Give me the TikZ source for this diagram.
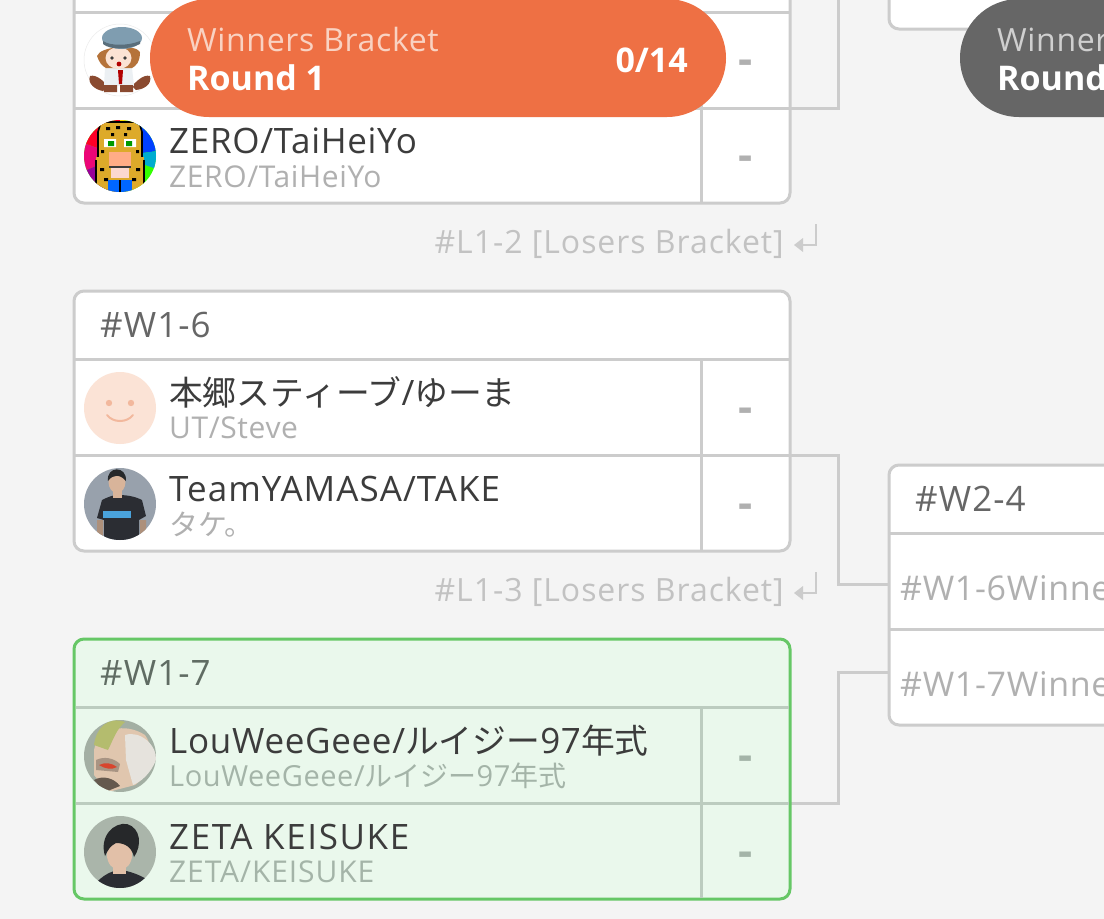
\documentclass[tikz,border=0pt]{standalone}
\usepackage{fontspec}
\setmainfont{Open Sans}
\newfontfamily\cjk[Scale=0.965]{Noto Sans CJK JP}
\newfontfamily\sptwo[LetterSpace=2]{Open Sans}
\newfontfamily\spthree[LetterSpace=3]{Open Sans}
\newfontfamily\spfive[LetterSpace=4.6]{Open Sans}
\definecolor{pagebg}{HTML}{F4F4F4}
\definecolor{linegray}{HTML}{CCCCCC}
\definecolor{greenedge}{HTML}{66C766}
\definecolor{greenfill}{HTML}{EAF8EC}
\definecolor{greenline}{HTML}{BCCCBF}
\definecolor{orangepill}{HTML}{EE7044}
\definecolor{graypill}{HTML}{666666}
\definecolor{maintext}{HTML}{3C3C3C}
\definecolor{subtext}{HTML}{B0B0B0}
\definecolor{greensub}{HTML}{A4B4A8}
\definecolor{headtext}{HTML}{666666}
\definecolor{greenhead}{HTML}{606C63}
\definecolor{noteink}{HTML}{C2C2C2}
\definecolor{hatblue}{HTML}{7F9DB0}
\definecolor{hairbrown}{HTML}{B5733A}
\definecolor{skin}{HTML}{FBE3D4}
\definecolor{bootbrown}{HTML}{8A4A30}
\definecolor{leopard}{HTML}{DDAA2A}
\definecolor{smileface}{HTML}{FBE3D6}
\definecolor{smileink}{HTML}{F2B89D}
\definecolor{photogray}{HTML}{98A1AC}
\definecolor{shirtdark}{HTML}{2B2D33}
\definecolor{photoskin}{HTML}{D8B49A}
\definecolor{shirtblue}{HTML}{4AA3DC}
\definecolor{greenphoto}{HTML}{A3AFA3}
\definecolor{mohawk}{HTML}{B4BC6E}
\definecolor{headskin}{HTML}{E0C6AE}
\definecolor{headpale}{HTML}{E6E3DD}
\definecolor{eyered}{HTML}{D8452E}
\definecolor{hairblack}{HTML}{26282A}
\definecolor{keiskin}{HTML}{E2C0A8}
\definecolor{pilltxt}{HTML}{F9D2C2}
\definecolor{graytxt}{HTML}{CFCFCF}
\tikzset{
  matchbox/.style={draw=linegray,fill=white,line width=3pt,rounded corners=10pt,anchor=north west,inner sep=0pt,outer sep=0pt,minimum width=716pt,minimum height=260pt},
  greenbox/.style={matchbox,draw=greenedge,fill=greenfill},
  rowline/.style={draw=linegray,line width=3pt},
  greenrow/.style={draw=greenline,line width=3pt},
  conn/.style={draw=linegray,line width=3pt},
  maintxt/.style={anchor=base west,inner sep=0pt,text=maintext,font=\fontsize{35}{35}\sptwo},
  subtxt/.style={anchor=base west,inner sep=0pt,text=subtext,font=\fontsize{30}{30}\sptwo},
  greensubtxt/.style={subtxt,text=greensub},
  headtxt/.style={anchor=base west,inner sep=0pt,text=headtext,font=\fontsize{35}{35}\spthree},
  greenheadtxt/.style={headtxt,text=greenhead},
  scoretxt/.style={anchor=base,inner sep=0pt,text=subtext,font=\fontsize{44}{44}\selectfont\bfseries},
  notetxt/.style={anchor=base east,inner sep=0pt,text=noteink,font=\fontsize{32}{32}\spthree},
  slottxt/.style={anchor=base west,inner sep=0pt,text=subtext,font=\fontsize{34}{34}\sptwo},
  pilltop/.style={anchor=base west,inner sep=0pt,font=\fontsize{32}{32}\sptwo},
  pillbot/.style={anchor=base west,inner sep=0pt,text=white,font=\fontsize{34}{34}\selectfont\bfseries},
  pillshape/.style={rounded corners=59pt,anchor=north west,inner sep=0pt,outer sep=0pt,minimum width=576pt,minimum height=118pt},
  notearrow/.style={draw=linegray,line width=2.4pt},
  notehead/.style={fill=linegray,draw=none},
}
\begin{document}
\begin{tikzpicture}[x=1pt,y=-1pt]
\useasboundingbox (0,0) rectangle (1104,919);
\clip (0,0) rectangle (1104,919);
\fill[pagebg] (0,0) rectangle (1104,919);

% ---------- connectors
\coordinate (w15out) at (790,108);
\coordinate (w15up) at (838,-10);
\coordinate (w16out) at (790,455);
\coordinate (w17out) at (790,803);
\coordinate (w24a) at (889,584);
\coordinate (w24b) at (889,672);
\coordinate (mid) at (838,630);
\draw[conn] (w15out) -| (w15up);
\draw[conn] (w16out) -| (mid |- w24a) -- (w24a);
\draw[conn] (w17out) -| (mid |- w24b) -- (w24b);

% ---------- boxes
\node[matchbox,minimum height=303pt] (w15) at (74,-100) {};
\node[matchbox] (w16) at (74,291) {};
\node[greenbox] (w17) at (74,639) {};
\node[matchbox,minimum width=600pt,minimum height=129pt] (w2top) at (889,-100) {};
\node[matchbox,minimum width=600pt] (w24) at (889,465) {};

% inner lines
\draw[rowline] (75,12) -- (789,12);
\draw[rowline] (75,108) -- (789,108);
\draw[rowline] (701,12) -- (701,202);
\draw[rowline] (75,359) -- (789,359);
\draw[rowline] (75,455) -- (789,455);
\draw[rowline] (701,359) -- (701,550);
\draw[greenrow] (75.5,707) -- (788.5,707);
\draw[greenrow] (75.5,803) -- (788.5,803);
\draw[greenrow] (701,707) -- (701,897.5);
\draw[rowline] (890,533) -- (1104,533);
\draw[rowline] (890,629) -- (1104,629);

% ---------- avatars
% A1 girl with cap
\draw[linegray!40,line width=.5pt] (120,60) circle (36);
\fill[bootbrown] (90,76) .. controls (97,74) and (104,82) .. (108,86) -- (103,91) .. controls (96,90) and (87,84) .. (90,76);
\fill[bootbrown] (150,76) .. controls (143,74) and (136,82) .. (132,86) -- (136,90) .. controls (145,89) and (152,84) .. (150,76);
\fill[white!85!hatblue] (105,68) -- (132,68) -- (134,86) -- (104,86) -- cycle;
\fill[hairbrown] (97,56) .. controls (100,46) and (136,44) .. (140,52) .. controls (140,62) and (136,66) .. (132,68) -- (106,68) .. controls (102,66) and (99,62) .. (97,56);
\fill[skin] (118.5,58) ellipse (13 and 11);
\fill[hatblue] (122,38) ellipse (20 and 11);
\fill[hatblue!70!black] (103,44) .. controls (110,50) and (128,50) .. (140,44) -- (140,41) .. controls (128,46) and (110,46) .. (103,41) -- cycle;
\fill[red!70!black] (118,70) -- (123,70) -- (122,84) -- (119,84) -- cycle;
\fill[maintext] (112,58) circle (1.8) (125,58) circle (1.8);
\fill[red!70!black] (119,64) circle (2.4);
\fill[bootbrown] (104,85) rectangle (117,92) (120,85) rectangle (133,92);

% A2 leopard on rainbow
\begin{scope}
\clip (120,156) circle (36);
\fill[green!80!yellow] (84,120) rectangle (156,192);
\fill[red!85!magenta] (120,156) -- (120,110) -- (80,110) -- (75,140) -- cycle;
\fill[magenta!80!red] (120,156) -- (75,140) -- (75,175) -- cycle;
\fill[violet!80!magenta] (120,156) -- (75,175) -- (90,200) -- (120,200) -- cycle;
\fill[yellow!90!red] (120,156) -- (120,110) -- (140,110) -- cycle;
\fill[blue!75!cyan] (120,156) -- (140,110) -- (165,125) -- (165,150) -- cycle;
\fill[cyan!80!green] (120,156) -- (165,150) -- (165,172) -- cycle;
\fill[leopard] (101,122) -- (139,122) -- (142,132) -- (142,157) -- (98,157) -- (98,132) -- cycle;
\draw[black,line width=1.6pt] (101,122) -- (139,122) -- (142,132) -- (142,157) (98,157) -- (98,132) -- (101,122);
\fill[black] (106,127) rectangle (110,130) (116,126) rectangle (120,129) (127,127) rectangle (131,130)
  (111,133) rectangle (114,136) (124,133) rectangle (127,136) (101,150) rectangle (104,153) (136,150) rectangle (139,153);
\fill[white] (104,139) rectangle (116,147) (124,139) rectangle (136,147);
\fill[green!60!black] (108,141) rectangle (114,146) (126,141) rectangle (132,146);
\fill[leopard] (96,157) rectangle (144,194);
\draw[black,line width=1.4pt] (96,194) -- (96,160) (144,194) -- (144,160);
\fill[black] (100,168) rectangle (104,171) (136,168) rectangle (140,171) (104,178) rectangle (108,181) (132,178) rectangle (136,181);
\fill[pink!70!orange] (109,152) rectangle (131,166);
\fill[maintext] (109,166) rectangle (131,168);
\fill[skin!70!pink] (111,168) rectangle (129,178);
\fill[blue!60!cyan] (108,180) rectangle (132,194);
\fill[black] (119,180) rectangle (121,194);
\end{scope}

% A3 smile
\fill[smileface] (120,408) circle (36);
\fill[smileink] (109,403) circle (3.2) (131,403) circle (3.2);
\draw[smileink,line width=2pt,line cap=round] (107,415) .. controls (113,423) and (127,423) .. (133,415);

% A4 photo
\begin{scope}
\clip (120,504) circle (36);
\fill[photogray] (84,468) rectangle (156,540);
\fill[photoskin!80!black] (97,520) rectangle (103,538) (140,520) rectangle (146,538);
\fill[shirtdark] (102,500) .. controls (110,496) and (114,495) .. (118,495) .. controls (126,495) and (134,496) .. (142,500) -- (146,516) -- (139,520) -- (139,542) -- (104,542) -- (104,520) -- (97,518) -- cycle;
\fill[photoskin] (117,482) ellipse (8.5 and 11);
\fill[photoskin] (113,488) rectangle (122,498);
\fill[hairblack] (108,481) .. controls (106,466) and (127,465) .. (126,481) .. controls (120,474) and (113,474) .. (108,481);
\fill[shirtblue] (103,511) rectangle (131,518);
\end{scope}

% A5 brawler
\begin{scope}
\clip (120,756) circle (36);
\fill[greenphoto] (84,720) rectangle (156,792);
\fill[headskin] (94,750) .. controls (98,728) and (125,722) .. (145,735) .. controls (156,750) and (150,775) .. (135,785) -- (108,792) -- (94,775) -- cycle;
\fill[headpale] (125,735) .. controls (140,730) and (157,745) .. (156,760) .. controls (150,775) and (140,782) .. (133,785) -- (126,760) -- cycle;
\fill[mohawk] (94,745) .. controls (96,728) and (108,716) .. (125,722) .. controls (116,730) and (114,738) .. (108,750) -- cycle;
\fill[headskin!75!black] (96,760) .. controls (104,756) and (114,758) .. (120,764) -- (118,772) -- (96,770) -- cycle;
\fill[eyered] (99,765) .. controls (105,762) and (112,763) .. (117,767) .. controls (112,770) and (105,769) .. (99,765);
\fill[headskin!45!black] (94,780) .. controls (103,775) and (114,778) .. (120,786) -- (105,792) -- cycle;
\end{scope}

% A6 portrait
\begin{scope}
\clip (120,852) circle (36);
\fill[greenphoto!92!white] (84,816) rectangle (156,888);
\fill[shirtdark] (94,885) .. controls (102,876) and (110,871) .. (120,870) .. controls (130,871) and (140,875) .. (148,880) -- (148,892) -- (94,892) -- cycle;
\fill[keiskin] (119.5,855) ellipse (12.5 and 15);
\fill[keiskin] (113,862) rectangle (126,874);
\fill[hairblack] (105,856) .. controls (99,836) and (114,822) .. (127,824) .. controls (141,828) and (142,846) .. (134,857) .. controls (132,848) and (126,843) .. (116,843) .. controls (110,846) and (108,850) .. (105,856);
\end{scope}

% ---------- match labels
\node[headtxt] (h16) at (100,337) {\#W1-6};
\node[greenheadtxt] (h17) at (100,685) {\#W1-7};
\node[headtxt] (h24) at (915,511) {\#W2-4};
\node[slottxt] (s1) at (900,600) {\#W1-6Winner};
\node[slottxt] (s2) at (900,696) {\#W1-7Winner};

% ---------- player labels
\node[maintxt] (p2) at (169,153) {ZERO/TaiHeiYo};
\node[subtxt] (p2s) at (169,187) {ZERO/TaiHeiYo};
\node[maintxt] (p3) at (169,405) {{\cjk 本郷スティーブ}/{\cjk ゆーま}};
\node[subtxt] (p3s) at (169,438) {UT/Steve};
\node[maintxt,font=\fontsize{35}{35}\spthree] (p4) at (169,501) {TeamYAMASA/TAKE};
\node[subtxt] (p4s) at (169,535) {{\cjk タケ。}};
\node[maintxt] (p5) at (169,753) {LouWeeGeee/{\cjk ルイジー}97{\cjk 年式}};
\node[greensubtxt,font=\fontsize{29}{29}\sptwo] (p5s) at (169,786) {LouWeeGeee/{\cjk ルイジー}97{\cjk 年式}};
\node[maintxt,font=\fontsize{35}{35}\spfive] (p6) at (169,849) {ZETA KEISUKE};
\node[greensubtxt,font=\fontsize{30}{30}\spthree] (p6s) at (169,882) {ZETA/KEISUKE};

% ---------- scores
\node[scoretxt] (m1) at (746,74) {-};
\node[scoretxt] (m2) at (746,170.5) {-};
\node[scoretxt] (m3) at (746,422.5) {-};
\node[scoretxt] (m4) at (746,518.5) {-};
\node[scoretxt,text=greensub] (m5) at (746,770.5) {-};
\node[scoretxt,text=greensub] (m6) at (746,866.5) {-};

% ---------- loser notes
\node[notetxt] (n1) at (784,253) {\#L1-2 [Losers Bracket]};
\node[notetxt] (n2) at (784,601) {\#L1-3 [Losers Bracket]};
\coordinate (a1t) at (816,224);
\coordinate (a1c) at (816,245);
\coordinate (a1e) at (801,245);
\coordinate (a2t) at (816,572);
\coordinate (a2c) at (816,593);
\coordinate (a2e) at (801,593);
\draw[notearrow] (a1t) -- (a1c) -- (a1e);
\draw[notearrow] (a2t) -- (a2c) -- (a2e);
\fill[notehead] (a1e) ++(2,-7) -- ++(0,14) -- ++(-9,-7) -- cycle;
\fill[notehead] (a2e) ++(2,-7) -- ++(0,14) -- ++(-9,-7) -- cycle;

% ---------- round pills
\node[pillshape,fill=orangepill] (pillA) at (150,-1) {};
\node[pillshape,fill=graypill] (pillB) at (960,-1) {};
\node[pilltop,text=pilltxt] (ta) at (187,51) {Winners Bracket};
\node[pillbot] (tb) at (187,90) {Round 1};
\node[anchor=base east,inner sep=0pt,text=white,font=\fontsize{34}{34}\selectfont\bfseries] (tc) at (688,72) {0/14};
\node[pilltop,text=graytxt] (td) at (997,51) {Winner};
\node[pillbot] (te) at (997,90) {Round};
\end{tikzpicture}
\end{document}
